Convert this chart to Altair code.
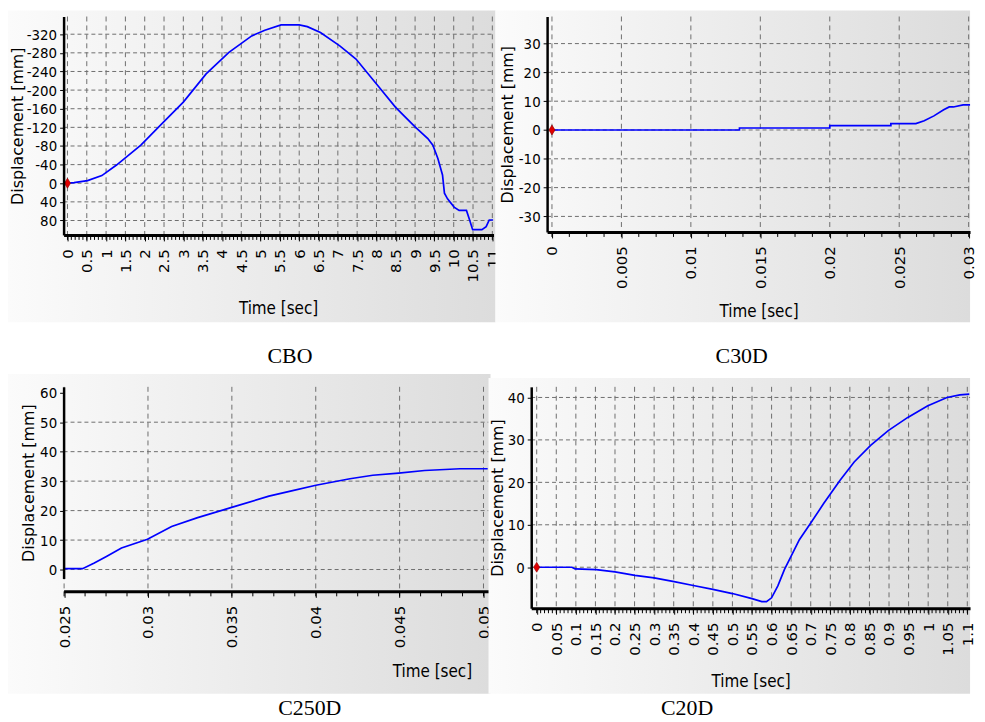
import altair as alt
import pandas as pd

# ---------------- data ----------------
cbo_t = [0, 0.17, 0.52, 0.89, 1.27, 1.90, 2.53, 3.00, 3.59, 4.18, 4.77, 5.11, 5.53, 6.00,
         6.21, 6.55, 7.05, 7.47, 8.07, 8.49, 9.00, 9.33, 9.46, 9.59, 9.71, 9.76, 9.84,
         10.01, 10.14, 10.33, 10.41, 10.49, 10.73, 10.84, 10.92, 11.02]
cbo_d = [0, -1.4, -5.7, -16.4, -39.1, -81.8, -135.1, -174.2, -234.7, -280.9, -316.4, -328.5,
         -339.9, -339.9, -336.3, -323.5, -295.1, -266.7, -206.2, -163.5, -120.9, -96.0, -81.8,
         -53.3, -17.8, 21.3, 33.4, 51.2, 58.3, 58.3, 78.2, 99.6, 99.6, 93.2, 78.9, 78.9]

c30_t = [0, 0.0135, 0.0135, 0.0200, 0.0200, 0.0244, 0.0244, 0.0262, 0.0268, 0.0275,
         0.0282, 0.0286, 0.0289, 0.0296, 0.0301]
c30_d = [0, 0, 0.7, 0.7, 1.5, 1.5, 2.2, 2.2, 3.2, 4.9, 7.0, 8.0, 8.0, 8.7, 8.7]

c250_t = [0.025, 0.0261, 0.0268, 0.02755, 0.02842, 0.02997, 0.03141, 0.03296, 0.03499,
          0.03721, 0.03856, 0.04001, 0.04204, 0.0434, 0.04494, 0.04649, 0.0486, 0.05025]
c250_d = [0.3, 0.3, 2.2, 4.5, 7.3, 10.3, 14.6, 17.6, 21.1, 24.9, 26.7, 28.6, 30.8, 32.0,
          32.7, 33.6, 34.2, 34.2]

c20_t = [0, 0.09, 0.098, 0.152, 0.2, 0.251, 0.3, 0.351, 0.4, 0.45, 0.5, 0.55, 0.575, 0.587,
         0.6, 0.616, 0.633, 0.65, 0.671, 0.7, 0.733, 0.775, 0.811, 0.853, 0.898, 0.948,
         0.998, 1.048, 1.081, 1.105]
c20_d = [0, 0, -0.4, -0.55, -1.1, -1.9, -2.5, -3.4, -4.3, -5.2, -6.2, -7.4, -8.1, -8.1, -7.2,
         -4.4, -0.5, 2.6, 6.5, 10.4, 15.0, 20.5, 24.8, 28.7, 32.2, 35.3, 38.0, 40.0, 40.6, 40.8]

# tick labels
cbo_xticks = [0, 0.5, 1, 1.5, 2, 2.5, 3, 3.5, 4, 4.5, 5, 5.5, 6, 6.5, 7, 7.5, 8, 8.5, 9, 9.5,
              10, 10.5, 11]
cbo_yticks = [-320, -280, -240, -200, -160, -120, -80, -40, 0, 40, 80]
c30_xticks = [0, 0.005, 0.01, 0.015, 0.02, 0.025, 0.03]
c30_yticks = [-30, -20, -10, 0, 10, 20, 30]
c250_xticks = [0.025, 0.03, 0.035, 0.04, 0.045, 0.05]
c250_yticks = [0, 10, 20, 30, 40, 50, 60]
c20_xticks = [0, 0.05, 0.1, 0.15, 0.2, 0.25, 0.3, 0.35, 0.4, 0.45, 0.5, 0.55, 0.6, 0.65, 0.7,
              0.75, 0.8, 0.85, 0.9, 0.95, 1, 1.05, 1.1]
c20_yticks = [0, 10, 20, 30, 40]

cbo_minor = [round(i * 0.1, 2) for i in range(0, 111)]
c30_minor = [round(i * 0.00125, 6) for i in range(0, 25)]
c250_minor = [round(0.025 + i * 0.00125, 6) for i in range(0, 21)]
c20_minor = [round(i * 0.01, 2) for i in range(0, 111)]

# ---------------- styling ----------------
GRID = "#6e6e6e"
NARROW = "'Liberation Sans Narrow', 'DejaVu Sans Condensed', 'Liberation Sans', sans-serif"
WIDE = "'DejaVu Sans', Verdana, sans-serif"
BG = alt.LinearGradient(
    gradient="linear",
    stops=[alt.GradientStop(color="#fbfbfb", offset=0),
           alt.GradientStop(color="#dcdcdc", offset=1)],
    x1=0, x2=1, y1=0, y2=0)
ONE = alt.Data(values=[{"k": 1}])


def panel(t, d, xdom, ydom, xticks, xminor, yticks, ygrid, w, h, bg, cap, capx, capy,
          tx, ty, yx, marker=True, yrev=False, xoff=0):
    xs = alt.Scale(domain=xdom, nice=False, zero=False)
    ys = alt.Scale(domain=ydom, nice=False, zero=False, reverse=yrev)
    ax_x = alt.Axis(values=xticks, title="Time [sec]", labelAngle=270,
                    labelExpr="'' + datum.value", labelOverlap=False, labelFlush=False,
                    labelFont=WIDE, labelFontSize=15, labelPadding=8, labelColor="black",
                    tickSize=6, tickColor="black", tickWidth=1,
                    domainColor="black", domainWidth=3, grid=False, offset=xoff,
                    titleFont=NARROW, titleFontSize=17, titleFontWeight="normal",
                    titleColor="black", titleX=tx, titleY=ty, titleAlign="center",
                    titleBaseline="middle", zindex=2)
    ax_y = alt.Axis(values=yticks, title="Displacement [mm]",
                    labelExpr="'' + datum.value", labelOverlap=False, labelFlush=False,
                    labelFont=NARROW, labelFontSize=15, labelPadding=3, labelColor="black",
                    tickSize=4, tickColor="black", tickWidth=1,
                    domainColor="black", domainWidth=2.5, grid=False,
                    titleFont=WIDE, titleFontSize=16, titleFontWeight="normal",
                    titleColor="black", titleX=yx, titleY=h / 2, titleAngle=270,
                    titleAlign="center", titleBaseline="middle", zindex=2)

    line_df = pd.DataFrame({"t": t, "d": d, "i": list(range(len(t)))})

    bg_layer = alt.Chart(ONE).mark_rect(fill=BG, strokeWidth=0).encode(
        x=alt.value(bg[0]), x2=alt.value(bg[1]), y=alt.value(bg[2]), y2=alt.value(bg[3]))

    vgrid = alt.Chart(pd.DataFrame({"t": xticks})).mark_rule(
        color=GRID, strokeDash=[5, 4], strokeWidth=1).encode(
        x=alt.X("t:Q", scale=xs, axis=ax_x), y=alt.value(0), y2=alt.value(h + xoff))

    hgrid = alt.Chart(pd.DataFrame({"d": ygrid})).mark_rule(
        color=GRID, strokeDash=[4, 3], strokeWidth=1).encode(
        y=alt.Y("d:Q", scale=ys, axis=ax_y), x=alt.value(0), x2=alt.value(w))

    minor = alt.Chart(pd.DataFrame({"t": xminor})).mark_rule(
        color="black", strokeWidth=1).encode(
        x=alt.X("t:Q", scale=xs, axis=ax_x), y=alt.value(h + xoff),
        y2=alt.value(h + xoff + 5))

    line = alt.Chart(line_df).mark_line(color="#0000ff", strokeWidth=1.7).encode(
        x=alt.X("t:Q", scale=xs, axis=ax_x),
        y=alt.Y("d:Q", scale=ys, axis=ax_y),
        order=alt.Order("i:Q"))

    layers = [bg_layer, vgrid, hgrid, minor, line]
    if marker:
        mk = alt.Chart(pd.DataFrame({"t": [0], "d": [0]})).mark_point(
            shape="M0,-1L0.62,0L0,1L-0.62,0Z", filled=True, fill="#e00000",
            stroke="#8a0000", strokeWidth=0.6, size=100, opacity=1).encode(
            x=alt.X("t:Q", scale=xs, axis=ax_x), y=alt.Y("d:Q", scale=ys, axis=ax_y))
        layers.append(mk)

    caption = alt.Chart(ONE).mark_text(
        text=cap, font="'Liberation Serif', 'Times New Roman', serif", fontSize=22,
        color="black", align="center", baseline="middle").encode(
        x=alt.value(capx), y=alt.value(capy))
    layers.append(caption)

    return alt.layer(*layers).properties(width=w, height=h)


p1 = panel(cbo_t, cbo_d, [-0.1, 11.03], [-358, 111], cbo_xticks, cbo_minor,
           cbo_yticks, cbo_yticks, 433, 220, (-56, 435, -6, 308), "CBO", 228, 342,
           216, 74, -46, marker=True, yrev=True)
p2 = panel(c30_t, c30_d, [-0.00035, 0.0301], [-35.4, 39.4], c30_xticks, c30_minor,
           c30_yticks, c30_yticks, 426, 217, (-52, 426, -6, 308), "C30D", 196, 342,
           213, 80, -40, marker=True)
p3 = panel(c250_t, c250_d, [0.02497, 0.0503], [-3.03, 62.0], c250_xticks, c250_minor,
           c250_yticks, [0, 10, 20, 30, 40, 50], 428, 193, (-56, 430, -13, 309), "C250D",
           248, 324, 371, 81, -35, marker=False, xoff=13)
p4 = panel(c20_t, c20_d, [-0.014, 1.107], [-9.66, 42.5], c20_xticks, c20_minor,
           c20_yticks, c20_yticks, 442, 223, (-43, 442, -9, 309), "C20D", 157, 324,
           221, 74, -34, marker=True)

row1 = alt.hconcat(p1, p2, spacing=54, bounds="flush")
row2 = alt.hconcat(p3, p4, spacing=43, bounds="flush")
chart = alt.vconcat(row1, row2, spacing=7, bounds="full").properties(
    padding=0, background="white"
).configure_view(stroke=None)

chart.save("out.html", embed_options={"renderer": "svg", "actions": False})
